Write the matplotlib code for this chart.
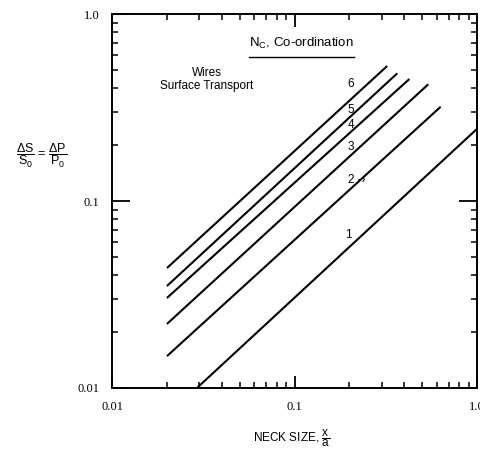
import numpy as np
import matplotlib
matplotlib.use("Agg")
import matplotlib.pyplot as plt
from matplotlib.ticker import LogLocator, NullFormatter, FixedLocator, FixedFormatter

# coordination number lines (log-log)
n_c = ["1", "2", "3", "4", "5", "6"]
x_start = [0.0292, 0.02, 0.02, 0.02, 0.02, 0.02]
x_end = [1.0, 0.632, 0.541, 0.426, 0.366, 0.322]
y_start = [0.01, 0.0148, 0.022, 0.0303, 0.0351, 0.0438]
y_end = [0.243, 0.319, 0.421, 0.449, 0.482, 0.527]

# where the little number labels sit
label_text = ["1", "2 -\u203a", "3", "4", "5", "6"]
label_x = [0.19, 0.196, 0.196, 0.196, 0.196, 0.196]
label_y = [0.066, 0.129, 0.195, 0.255, 0.307, 0.42]

tick_vals = [0.01, 0.1, 1.0]
tick_labels = ["0.01", "0.1", "1.0"]

plt.rcParams["mathtext.fontset"] = "custom"
plt.rcParams["mathtext.rm"] = "Liberation Sans"
plt.rcParams["mathtext.default"] = "rm"

sans = ["Liberation Sans", "DejaVu Sans"]
serif = ["Liberation Serif", "DejaVu Serif"]

fig = plt.figure(figsize=(4.81, 4.51), dpi=100)
ax = fig.add_axes([112 / 481, 63 / 451, 365 / 481, 374 / 451])

for i in range(len(n_c)):
    ax.plot([x_start[i], x_end[i]], [y_start[i], y_end[i]], color="black", lw=1.5,
            solid_capstyle="butt")

ax.set_xscale("log")
ax.set_yscale("log")
ax.set_xlim(0.01, 1.0)
ax.set_ylim(0.01, 1.0)

for axis in (ax.xaxis, ax.yaxis):
    axis.set_major_locator(FixedLocator(tick_vals))
    axis.set_major_formatter(FixedFormatter(tick_labels))
    axis.set_minor_locator(LogLocator(base=10, subs=np.arange(2, 10)))
    axis.set_minor_formatter(NullFormatter())

ax.tick_params(which="both", direction="in", top=True, right=True, color="black")
ax.tick_params(axis="x", which="major", length=9, width=1.3, pad=9)
ax.tick_params(axis="y", which="major", length=13, width=1.3, pad=9)
ax.tick_params(which="minor", length=4.5, width=1.1)
for lab in ax.get_xticklabels() + ax.get_yticklabels():
    lab.set_family(serif)
    lab.set_fontsize(9)

for sp in ax.spines.values():
    sp.set_linewidth(1.4)

# number labels on the lines
for t, xx, yy in zip(label_text, label_x, label_y):
    ax.text(xx, yy, t, family=sans, fontsize=8.5, ha="left", va="center")

ax.text(0.26, 0.825, "Wires\nSurface Transport", transform=ax.transAxes,
        family=sans, fontsize=8.5, ha="center", va="center", linespacing=1.1)

title = ax.text(0.375, 0.922, r"N$_\mathrm{C}$, Co-ordination", transform=ax.transAxes,
                family=sans, fontsize=9.5, ha="left", va="center")
fig.canvas.draw()
bb = title.get_window_extent().transformed(ax.transAxes.inverted())
ax.plot([bb.x0, bb.x1], [0.885, 0.885], transform=ax.transAxes, color="black", lw=1.0)

fig.text(42 / 481, 1 - 156 / 451, r"$\dfrac{\Delta S}{S_0}$ = $\dfrac{\Delta P}{P_0}$",
         family=sans, fontsize=9, ha="center", va="center")
fig.text(292 / 481, 1 - 438 / 451, r"NECK SIZE, $\dfrac{x}{a}$",
         family=sans, fontsize=8.5, ha="center", va="center")

fig.savefig("out.png", dpi=100)
